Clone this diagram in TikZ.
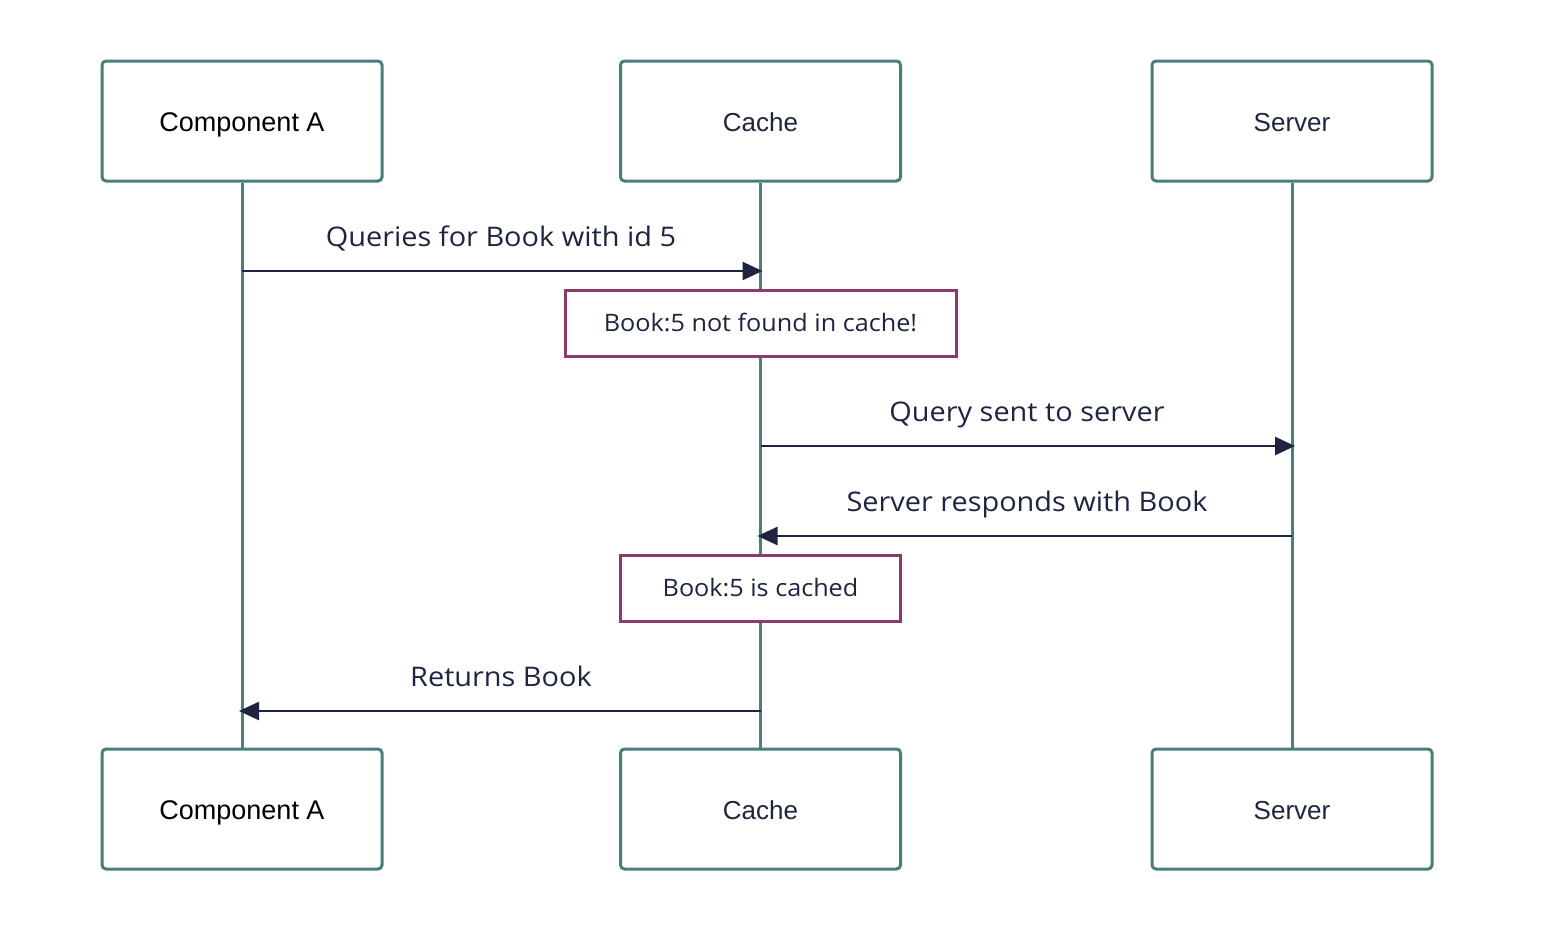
\documentclass[tikz,border=0pt]{standalone}
\usepackage{fontspec}
\setmainfont{Liberation Sans}
\newfontfamily\msgfont{Open Sans}[FakeStretch=1.07]
\newfontfamily\notefont{Open Sans}[FakeStretch=1.05]
\usetikzlibrary{arrows.meta}
\definecolor{teal}{HTML}{4A7E7A}
\definecolor{notebd}{HTML}{8B3A6E}
\definecolor{navy}{HTML}{1F2440}
\tikzset{
  actor/.style={draw=teal, line width=3pt, rounded corners=4pt, fill=white, minimum width=280pt, minimum height=120pt, inner sep=0pt, font=\fontsize{26}{30}\selectfont, text=navy, text height=20pt, text depth=0pt},
  life/.style={draw=teal, line width=3pt},
  msg/.style={draw=navy, line width=2.5pt, -{Triangle[length=20pt,width=18pt]}},
  msglabel/.style={font=\msgfont\fontsize{27}{32}\selectfont, text=navy, inner sep=0pt, anchor=base},
  note/.style={draw=notebd, line width=3pt, fill=white, minimum height=66pt, inner sep=0pt, font=\notefont\fontsize{24}{28}\selectfont, text=navy, text height=17pt, text depth=0pt},
}
\begin{document}
\begin{tikzpicture}[x=1pt,y=-1pt]
\useasboundingbox (0,0) rectangle (1560,940);
% actors
\node[actor, text=black, font=\fontsize{27}{30}\selectfont] (aT) at (242,121) {Component A};
\node[actor] (cT) at (760.5,121) {Cache};
\node[actor] (sT) at (1292,121) {Server};
\node[actor, text=black, font=\fontsize{27}{30}\selectfont] (aB) at (242,809) {Component A};
\node[actor] (cB) at (760.5,809) {Cache};
\node[actor] (sB) at (1292,809) {Server};
% lifelines
\draw[life] (aT.south) -- (aB.north);
\draw[life] (cT.south) -- (cB.north);
\draw[life] (sT.south) -- (sB.north);
% message coordinates
\coordinate (m1a) at (aT.south |- 0,271);
\coordinate (m1b) at ([xshift=2pt]cT.south |- 0,271);
\coordinate (m2a) at (cT.south |- 0,446);
\coordinate (m2b) at ([xshift=3pt]sT.south |- 0,446);
\coordinate (m3a) at (sT.south |- 0,536);
\coordinate (m3b) at ([xshift=-3pt]cT.south |- 0,536);
\coordinate (m4a) at (cT.south |- 0,711);
\coordinate (m4b) at ([xshift=-3pt]aT.south |- 0,711);
% messages
\draw[msg] (m1a) -- (m1b);
\node[msglabel] (l1) at (501,246) {Queries for Book with id 5};
\node[note, minimum width=391pt] (n1) at (760.5,323) {Book:5 not found in cache!};
\draw[msg] (m2a) -- (m2b);
\node[msglabel] (l2) at (1027,421) {Query sent to server};
\draw[msg] (m3a) -- (m3b);
\node[msglabel] (l3) at (1027,511) {Server responds with Book};
\node[note, minimum width=280pt] (n2) at (760.5,588) {Book:5 is cached};
\draw[msg] (m4a) -- (m4b);
\node[msglabel] (l4) at (501,686) {Returns Book};
\end{tikzpicture}
\end{document}
